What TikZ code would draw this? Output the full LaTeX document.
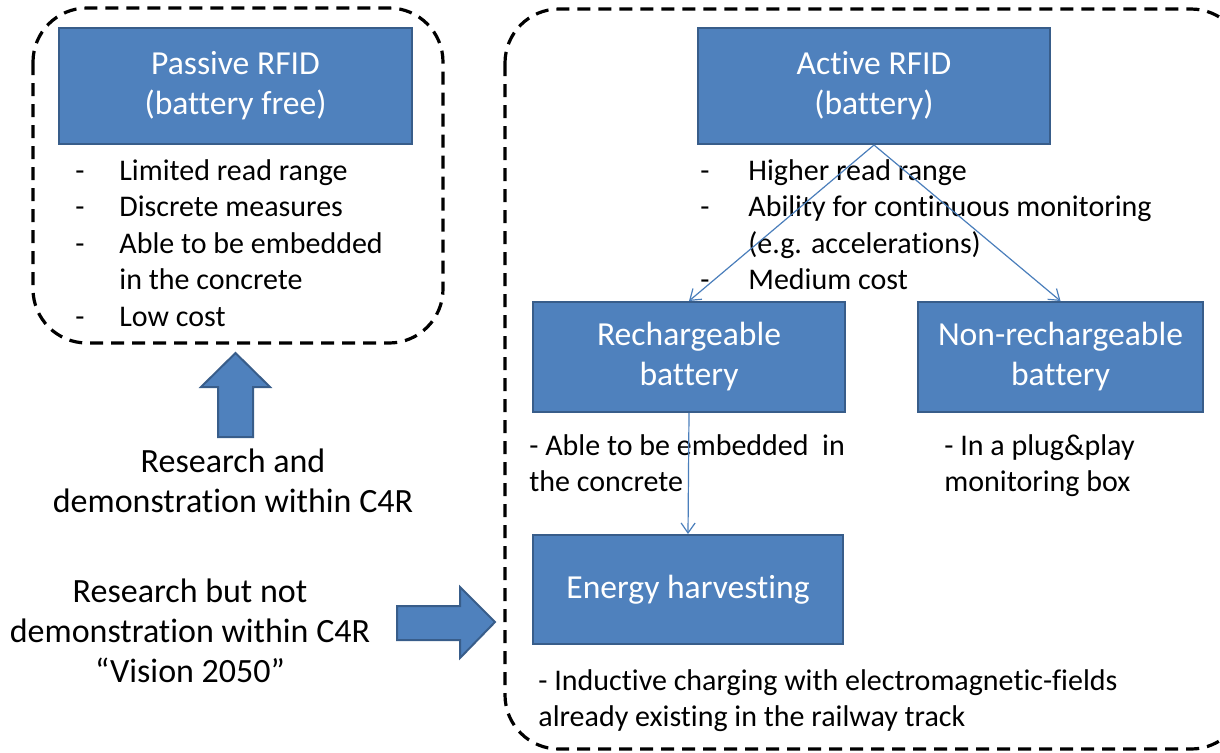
\documentclass[tikz,border=0pt]{standalone}
\usepackage{fontspec}
\setmainfont{Carlito}[Ligatures={NoCommon}]
\usepackage{xcolor}
\usepackage{tikz}
\usetikzlibrary{arrows.meta,positioning}

\definecolor{boxblue}{RGB}{79,129,189}
\definecolor{boxedge}{RGB}{56,93,138}
\definecolor{linkblue}{RGB}{74,126,187}

\begin{document}
\begin{tikzpicture}[
    x=0.5pt, y=-0.5pt,
    box/.style={rectangle, draw=boxedge, fill=boxblue, line width=1pt, align=center, text=white, inner sep=0pt, font=\fontsize{16.8}{20}\selectfont},
    note/.style={inner sep=0pt, anchor=base west, font=\fontsize{15}{18.25}\selectfont},
    caption/.style={inner sep=0pt, align=center, font=\fontsize{17}{20}\selectfont},
    frame/.style={draw=black, line width=1.6pt, dash pattern=on 6.5pt off 4pt, rounded corners=27pt},
    bigarrow/.style={draw=boxedge, fill=boxblue, line width=1pt, line join=miter},
    arrow/.style={-{Straight Barb[length=5pt,width=7pt]}, draw=linkblue, line width=0.6pt}
]
    \useasboundingbox (0,0) rectangle (1220,752);
    \clip (0,0) rectangle (1220,752);

    \draw [frame] (33,8) rectangle (443,343);
    \draw [frame] (505,9) rectangle (1245,749);

    \node [box, minimum width=176.5pt, minimum height=58pt] (passive) at (235.5,86) {Passive RFID\\(battery free)};
    \node [box, minimum width=176pt, minimum height=58pt] (active) at (874,86) {Active RFID\\(battery)};
    \node [box, minimum width=156pt, minimum height=55pt] (recharge) at (689,357) {Rechargeable\\battery};
    \node [box, minimum width=142.5pt, minimum height=55pt] (norecharge) at (1060.5,357) {Non-rechargeable\\battery};
    \node [box, minimum width=155pt, minimum height=54.5pt] (harvest) at (688,589.5) {Energy harvesting};

    \node [note] (passivenote) at (75,180) {\begin{tabular}[t]{@{}p{22pt}@{}l@{}}
        - & Limited read range\\
        - & Discrete measures\\
        - & Able to be embedded\\
          & in the concrete\\
        - & Low cost
    \end{tabular}};
    \node [note] (activenote) at (700,180) {\begin{tabular}[t]{@{}p{24pt}@{}l@{}}
        - & Higher read range\\
        - & Ability for continuous monitoring\\
          & (e.g. accelerations)\\
        - & Medium cost
    \end{tabular}};
    \node [note] (rechargenote) at (529,455) {\begin{tabular}[t]{@{}l@{}}
        - Able to be embedded\ \ in\\
        the concrete
    \end{tabular}};
    \node [note] (norechargenote) at (944,455) {\begin{tabular}[t]{@{}l@{}}
        - In a plug\&play\\
        monitoring box
    \end{tabular}};
    \node [note] (harvestnote) at (538,690) {\begin{tabular}[t]{@{}l@{}}
        - Inductive charging with electromagnetic-fields\\
        already existing in the railway track
    \end{tabular}};

    \node [caption] (demo) at (233,481) {Research and\\demonstration within C4R};
    \node [caption] (vision) at (190,631) {Research but not\\demonstration within C4R\\“Vision 2050”};

    \draw [bigarrow] (235.5,353) -- (270,387) -- (253,387) -- (253,437) -- (218,437) -- (218,387) -- (201,387) -- cycle;
    \draw [bigarrow] (495,622) -- (460,658) -- (460,640) -- (397,640) -- (397,606) -- (460,606) -- (460,587) -- cycle;

    \draw [arrow] (active.south) -- (recharge.north);
    \draw [arrow] (active.south) -- (norecharge.north);
    \draw [arrow] (recharge.south) -- (harvest.north);
\end{tikzpicture}
\end{document}
